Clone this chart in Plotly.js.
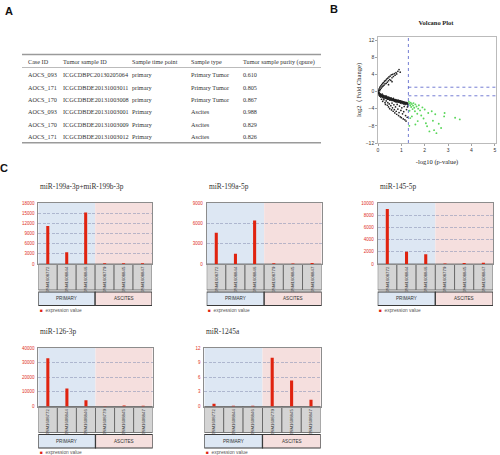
<!DOCTYPE html>
<html><head><meta charset="utf-8">
<script src="https://cdn.plot.ly/plotly-3.0.1.min.js"></script>
<style>html,body{margin:0;padding:0;background:#fff}#chart{width:500px;height:455px}</style>
</head><body><div id="chart"></div>
<script>
// ---------- Panel A: table ----------
const tableHeaders = ["Case ID","Tumor sample ID","Sample time point","Sample type","Tumor sample purity (qpure)"];
const caseIds = ["AOCS_093","AOCS_171","AOCS_170","AOCS_093","AOCS_170","AOCS_171"];
const sampleIds = ["ICGCDBPC20130205064","ICGCDBDE20131003011","ICGCDBDE20131003008","ICGCDBDE20131003001","ICGCDBDE20131003009","ICGCDBDE20131003012"];
const timePoints = ["primary","primary","primary","Primary","Primary","Primary"];
const sampleTypes = ["Primary Tumor","Primary Tumor","Primary Tumor","Ascites","Ascites","Ascites"];
const purities = ["0.610","0.805","0.867","0.988","0.829","0.826"];

// ---------- Panel B: volcano plot ----------
const volcanoXTicks = [0,1,2,3,4,5];
const volcanoYTicks = [-12,-8,-4,0,4,8,12];
const pCut = 1.3;
const fcCut = 1;
const upperArm = [[0.03,0.3],[0.05,0.6],[0.07,0.2],[0.08,1.0],[0.1,0.5],[0.12,1.3],[0.14,0.8],[0.16,1.6],[0.18,1.1],[0.2,1.9],[0.22,1.3],[0.24,2.1],[0.26,1.5],[0.28,2.4],[0.3,1.8],[0.33,2.6],[0.35,1.9],[0.37,2.9],[0.4,2.2],[0.42,3.1],[0.45,2.5],[0.47,3.4],[0.5,2.8],[0.52,3.6],[0.55,2.6],[0.57,3.9],[0.6,3.2],[0.63,4.0],[0.66,3.5],[0.7,4.2],[0.73,3.8],[0.77,4.4],[0.8,4.1],[0.85,4.7],[0.9,5.1],[0.95,4.5],[0.6,2.3],[0.45,1.6]];
const denseBand = [[0.02,-0.2],[0.02,-0.5],[0.02,-0.1],[0.05,-0.3],[0.05,-0.6],[0.05,-0.9],[0.08,-0.5],[0.08,-0.8],[0.08,-1.1],[0.1,-0.6],[0.1,-0.9],[0.12,-0.7],[0.12,-1.0],[0.12,-1.3],[0.15,-0.8],[0.15,-1.1],[0.18,-0.9],[0.18,-1.2],[0.18,-0.6],[0.2,-1.0],[0.2,-1.3],[0.23,-0.9],[0.23,-1.2],[0.23,-1.5],[0.26,-1.1],[0.26,-1.4],[0.3,-1.0],[0.3,-1.3],[0.3,-1.6],[0.33,-1.2],[0.33,-1.5],[0.36,-1.3],[0.36,-1.6],[0.36,-1.1],[0.4,-1.3],[0.4,-1.6],[0.4,-1.8],[0.43,-1.4],[0.43,-1.7],[0.46,-1.5],[0.46,-1.8],[0.46,-1.3],[0.5,-1.5],[0.5,-1.7],[0.5,-2.0],[0.53,-1.6],[0.53,-1.9],[0.56,-1.7],[0.56,-2.0],[0.56,-1.5],[0.6,-1.7],[0.6,-1.9],[0.6,-2.1],[0.63,-1.8],[0.63,-2.0],[0.66,-1.8],[0.66,-2.1],[0.66,-1.6],[0.7,-1.9],[0.7,-2.1],[0.7,-2.3],[0.73,-2.0],[0.73,-2.2],[0.76,-1.9],[0.76,-2.1],[0.76,-2.4],[0.8,-2.0],[0.8,-2.2],[0.8,-2.4],[0.83,-2.1],[0.83,-2.3],[0.86,-2.0],[0.86,-2.2],[0.86,-2.5],[0.9,-2.1],[0.9,-2.3],[0.9,-2.5],[0.93,-2.2],[0.93,-2.4],[0.96,-2.2],[0.96,-2.5],[0.96,-2.7],[1.0,-2.3],[1.0,-2.5],[1.03,-2.3],[1.03,-2.6],[1.03,-2.8],[1.06,-2.4],[1.06,-2.6],[1.1,-2.4],[1.1,-2.7],[1.1,-2.9],[1.13,-2.5],[1.13,-2.7],[1.16,-2.5],[1.16,-2.8],[1.16,-3.0],[1.2,-2.6],[1.2,-2.8],[1.23,-2.6],[1.23,-2.9],[1.27,-2.7],[1.27,-2.9],[1.27,-3.1]];
const lowerWedge = [[0.15,-1.8],[0.2,-2.3],[0.25,-1.9],[0.3,-2.6],[0.32,-3.0],[0.35,-2.2],[0.4,-3.2],[0.42,-2.6],[0.45,-3.6],[0.48,-2.9],[0.5,-4.0],[0.55,-3.3],[0.58,-4.3],[0.6,-2.7],[0.62,-3.8],[0.65,-4.6],[0.68,-3.1],[0.7,-4.2],[0.72,-5.0],[0.75,-3.6],[0.78,-4.6],[0.8,-5.3],[0.82,-3.0],[0.85,-4.1],[0.88,-5.6],[0.9,-4.9],[0.92,-3.4],[0.95,-5.9],[0.98,-4.4],[1.0,-6.1],[1.02,-3.8],[1.05,-5.2],[1.08,-6.4],[1.1,-4.7],[1.12,-3.5],[1.15,-6.6],[1.18,-5.6],[1.2,-6.9],[1.22,-4.2],[1.25,-6.0],[1.26,-3.6]];
const significant = [[1.32,-2.4],[1.35,-2.8],[1.38,-3.2],[1.4,-2.6],[1.42,-3.6],[1.45,-2.9],[1.48,-4.1],[1.5,-3.3],[1.52,-2.7],[1.55,-3.8],[1.58,-4.6],[1.6,-3.0],[1.65,-3.5],[1.68,-5.2],[1.7,-6.9],[1.72,-4.0],[1.75,-3.2],[1.8,-4.4],[1.85,-5.6],[1.9,-3.7],[1.95,-6.3],[2.0,-4.2],[2.05,-7.4],[2.1,-8.1],[2.15,-5.0],[2.2,-9.3],[2.3,-4.6],[2.35,-6.8],[2.45,-5.3],[2.5,-9.7],[2.6,-7.5],[2.7,-8.5],[2.85,-5.0],[2.83,-5.8],[3.3,-6.1],[3.5,-6.5],[1.6,-7.7],[1.45,-5.8],[1.35,-4.5],[1.38,-6.2],[1.34,-8.0],[2.4,-9.0]];

// ---------- Panel C: expression bars ----------
const samples = ["GSM1608772","GSM1608844","GSM1608846","GSM1608779","GSM1608845","GSM1608847"];
const groups = ["PRIMARY","ASCITES"];
const mirNames = ["miR-199a-3p+miR-199b-3p","miR-199a-5p","miR-145-5p","miR-126-3p","miR-1245a"];
const vals199a3p = [11200, 3500, 15200, 200, 250, 250];
const vals199a5p = [4600, 1500, 6400, 100, 80, 150];
const vals145 = [9000, 2000, 1600, 100, 150, 200];
const vals126 = [33000, 12300, 4200, 300, 700, 500];
const vals1245a = [0.55, 0.15, 0.15, 10.0, 5.35, 1.4];
const yMaxes = [18000, 9000, 10000, 40000, 12];
const yDticks = [3000, 3000, 2000, 10000, 3];
const legendLabel = "expression value";

// ---------- geometry helpers ----------
const W = 500, H = 455;
const fx = p => p / W;
const fy = p => 1 - p / H;

const layout = {
  width: W, height: H,
  margin: {l:0, r:0, t:0, b:0},
  paper_bgcolor: '#ffffff',
  plot_bgcolor: 'rgba(0,0,0,0)',
  showlegend: false,
  font: {family: 'Liberation Sans', color: '#333'},
  title: {text: 'Volcano Plot', x: fx(436), xanchor: 'center', y: fy(23), yanchor: 'middle',
          xref: 'paper', yref: 'paper', font: {family: 'Liberation Serif', size: 6.5, color: '#222', weight: 'bold'}},
  annotations: [], shapes: []
};
const traces = [];

// Panel letters
[["A",8.5,11],["B",333.5,8.5],["C",4,168]].forEach(([t,x,y]) => {
  layout.annotations.push({text: t, x: fx(x), y: fy(y), xref: 'paper', yref: 'paper', showarrow: false,
    xanchor: 'center', yanchor: 'middle', font: {family: 'Liberation Sans', size: 11, color: '#111', weight: 'bold'}});
});

// ---------- Table ----------
const tableCols = [caseIds, sampleIds, timePoints, sampleTypes, purities];
const colX = [25.5, 60.5, 130, 189, 241];
const headerY = 62, rowY0 = 74.7, rowStep = 12.38;
const tFont = {family: 'Liberation Serif', size: 6.2, color: '#333'};
tableHeaders.forEach((h, c) => {
  layout.annotations.push({text: h, x: fx(colX[c]), y: fy(headerY), xref: 'paper', yref: 'paper', showarrow: false,
    xanchor: 'left', yanchor: 'middle', font: tFont});
});
tableCols.forEach((col, c) => {
  col.forEach((v, r) => {
    layout.annotations.push({text: v, x: fx(colX[c]), y: fy(rowY0 + r * rowStep), xref: 'paper', yref: 'paper', showarrow: false,
      xanchor: 'left', yanchor: 'middle', font: tFont});
  });
});
[[54.5,1.6,'#9a9a9a'],[67.5,0.8,'#aaaaaa'],[142.7,1.6,'#9a9a9a']].forEach(([y,w,c]) => {
  layout.shapes.push({type: 'line', xref: 'paper', yref: 'paper', x0: fx(22), x1: fx(321), y0: fy(y), y1: fy(y),
    line: {color: c, width: w}});
});

// ---------- Volcano ----------
const blackPts = upperArm.concat(denseBand, lowerWedge);
traces.push({type: 'scatter', mode: 'markers', x: blackPts.map(p => p[0]), y: blackPts.map(p => p[1]),
  xaxis: 'x', yaxis: 'y', marker: {size: 1.7, color: '#222'}, hoverinfo: 'skip'});
traces.push({type: 'scatter', mode: 'markers', x: significant.map(p => p[0]), y: significant.map(p => p[1]),
  xaxis: 'x', yaxis: 'y', marker: {size: 1.9, color: '#5ad65a'}, hoverinfo: 'skip'});
const vTickFont = {family: 'Liberation Sans', size: 5, color: '#333'};
layout.xaxis = {domain: [fx(378), fx(496)], range: [0, 5.05], anchor: 'y', tickvals: volcanoXTicks,
  ticks: 'outside', ticklen: 2, tickwidth: 0.6, tickcolor: '#666', tickfont: vTickFont,
  showline: true, mirror: true, linecolor: '#aaa', linewidth: 0.8, showgrid: false, zeroline: false,
  title: {text: '-log10 (p-value)', font: {family: 'Liberation Serif', size: 6.5, color: '#222'}, standoff: 7}};
layout.yaxis = {domain: [fy(143), fy(37)], range: [-12, 12.7], anchor: 'x', tickvals: volcanoYTicks,
  ticks: 'outside', ticklen: 2, tickwidth: 0.6, tickcolor: '#666', tickfont: vTickFont,
  showline: true, mirror: true, linecolor: '#aaa', linewidth: 0.8, showgrid: false, zeroline: false,
  title: {text: 'log2（Fold Change)', font: {family: 'Liberation Serif', size: 6.5, color: '#222'}, standoff: 3}};
layout.shapes.push({type: 'line', xref: 'x', yref: 'y domain', x0: pCut, x1: pCut, y0: 0, y1: 1,
  line: {color: '#3845c0', width: 0.7, dash: 'dot'}});
[fcCut, -fcCut].forEach(v => layout.shapes.push({type: 'line', xref: 'x', yref: 'y', x0: pCut, x1: 5.05, y0: v, y1: v,
  line: {color: '#3845c0', width: 0.7, dash: 'dot'}}));

// ---------- Bar panels ----------
const panelVals = [vals199a3p, vals199a5p, vals145, vals126, vals1245a];
const panelBoxes = [
  {x0: 38.3, x1: 152, y0: 203, y1: 264},
  {x0: 206.7, x1: 321.7, y0: 203, y1: 264},
  {x0: 377.7, x1: 493, y0: 203, y1: 264},
  {x0: 38.3, x1: 152.7, y0: 348, y1: 406.5},
  {x0: 204.3, x1: 320.7, y0: 348, y1: 406.5}
];
const blueBg = '#dde7f3', pinkBg = '#f5dfde';
panelBoxes.forEach((b, i) => {
  const n = i + 2, xr = 'x' + n, yr = 'y' + n;
  traces.push({type: 'bar', x: samples, y: panelVals[i], xaxis: xr, yaxis: yr, width: 0.16,
    marker: {color: '#e0230f'}, name: legendLabel, hoverinfo: 'x+y'});
  layout['xaxis' + n] = {domain: [fx(b.x0), fx(b.x1)], anchor: yr, type: 'category', categoryorder: 'array',
    categoryarray: samples, range: [-0.5, samples.length - 0.5], tickangle: -90, ticks: '',
    tickfont: {family: 'Liberation Sans', size: 4.3, color: '#333'}, ticklabelstandoff: 1.5,
    showline: true, mirror: true, linecolor: '#8c8c8c', linewidth: 1, showgrid: false, zeroline: false};
  layout['yaxis' + n] = {domain: [fy(b.y1), fy(b.y0)], anchor: xr, range: [0, yMaxes[i]], tick0: 0, dtick: yDticks[i],
    tickformat: 'd', ticks: '', ticklabelstandoff: 2,
    tickfont: {family: 'Liberation Sans', size: 4.5, color: '#e0301e'},
    showgrid: true, gridcolor: '#8f98b8', griddash: '3px,1.5px', gridwidth: 0.6, zeroline: false,
    showline: true, mirror: true, linecolor: '#8c8c8c', linewidth: 1};
  // group backgrounds inside plot
  const half = samples.length / 2;
  [[-0.5, half - 0.5, blueBg], [half - 0.5, samples.length - 0.5, pinkBg]].forEach(([a, c, col]) => {
    layout.shapes.push({type: 'rect', layer: 'below', xref: xr, yref: yr + ' domain', x0: a, x1: c, y0: 0, y1: 1,
      fillcolor: col, line: {width: 0}});
  });
  // sample label cells
  samples.forEach((s, k) => {
    layout.shapes.push({type: 'rect', layer: 'below', xref: xr, yref: 'paper', x0: k - 0.5, x1: k + 0.5,
      y0: fy(b.y1 + 26), y1: fy(b.y1), fillcolor: '#d4d4d4', line: {color: '#5a5a5a', width: 0.8}});
  });
  // group boxes
  groups.forEach((g, k) => {
    const a = k * half - 0.5, c = (k + 1) * half - 0.5;
    layout.shapes.push({type: 'rect', xref: xr, yref: 'paper', x0: a, x1: c,
      y0: fy(b.y1 + 41.5), y1: fy(b.y1 + 28), fillcolor: k === 0 ? blueBg : pinkBg, line: {color: '#3a3a3a', width: 1.2}});
    layout.annotations.push({text: g, xref: xr, yref: 'paper', x: (a + c) / 2, y: fy(b.y1 + 34.8), showarrow: false,
      xanchor: 'center', yanchor: 'middle', font: {family: 'Liberation Sans', size: 4.6, color: '#333'}});
  });
  // legend
  layout.annotations.push({text: "<span style='color:#e0230f'>■</span>  " + legendLabel, xref: 'paper', yref: 'paper',
    x: fx(b.x0 - 0.5), y: fy(b.y1 + 46), showarrow: false, xanchor: 'left', yanchor: 'middle',
    font: {family: 'Liberation Sans', size: 4.8, color: '#555'}});
  // title
  layout.annotations.push({text: mirNames[i], xref: 'paper', yref: 'paper', x: fx(b.x0), y: fy(b.y0 - 16.5),
    showarrow: false, xanchor: 'left', yanchor: 'middle', font: {family: 'Liberation Serif', size: 7.4, color: '#333'}});
});

Plotly.newPlot('chart', traces, layout, {displayModeBar: false, staticPlot: true});
</script></body></html>
